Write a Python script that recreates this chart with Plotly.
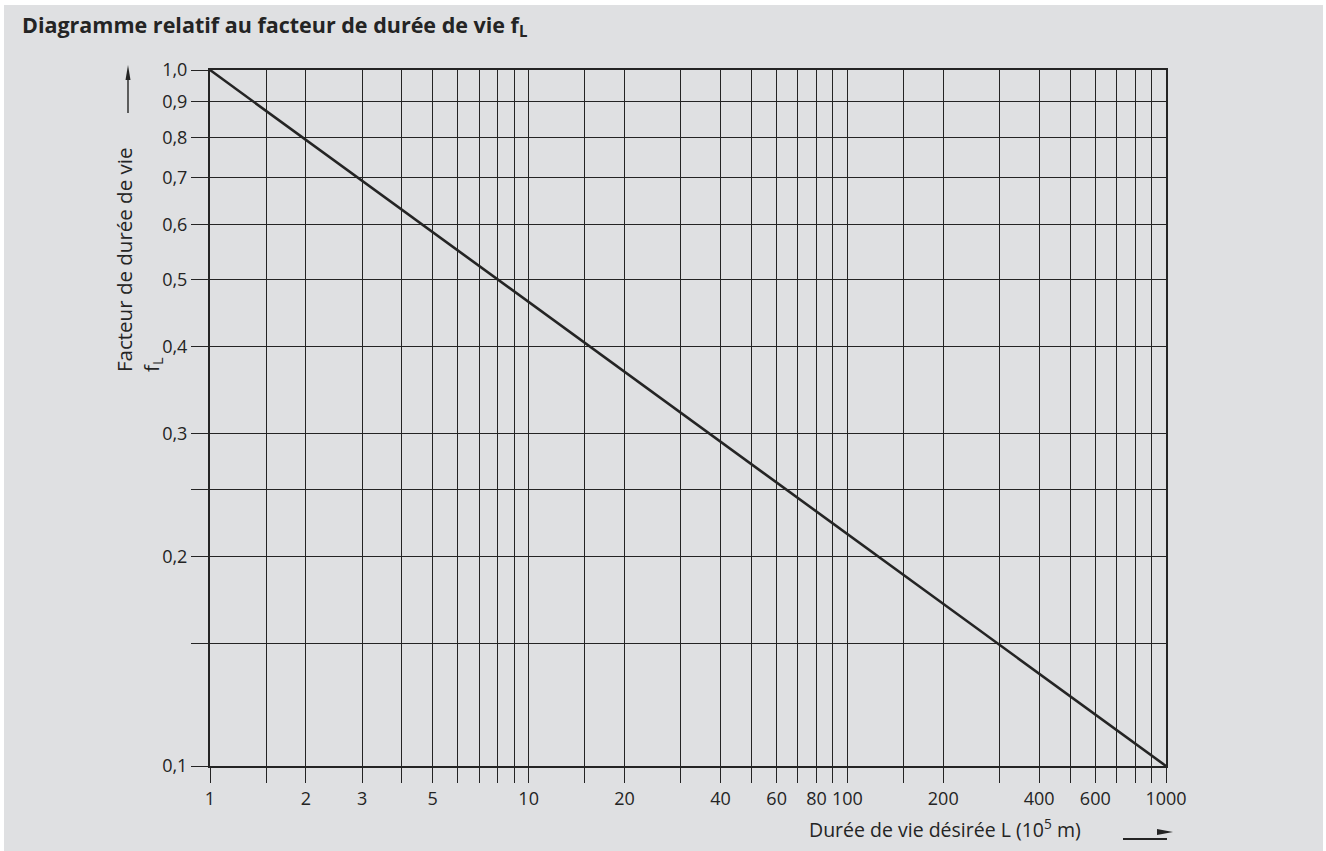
import plotly.graph_objects as go

# Life-factor curve f_L against desired life L (log-log)
life_L = [1, 10, 100, 1000]
factor_fL = [1.0, 0.464, 0.215, 0.1]

# Labelled tick positions
x_major = [1, 2, 3, 5, 10, 20, 40, 60, 80, 100, 200, 400, 600, 1000]
x_major_text = ["1", "2", "3", "5", "10", "20", "40", "60", "80", "100", "200", "400", "600", "1000"]
y_major = [0.1, 0.2, 0.3, 0.4, 0.5, 0.6, 0.7, 0.8, 0.9, 1.0]
y_major_text = ["0,1", "0,2", "0,3", "0,4", "0,5", "0,6", "0,7", "0,8", "0,9", "1,0"]

# Unlabelled grid positions
x_minor = [1.5, 4, 6, 7, 8, 9, 15, 30, 50, 70, 90, 150, 300, 500, 700, 800, 900]
y_minor = [0.15, 0.25]

W, H = 1326, 851
ML, MR, MT, MB = 210, 160, 70, 85
PW, PH = W - ML - MR, H - MT - MB
BG = "#dfe0e2"
INK = "#242424"
FONT = "Open Sans"


def px(x):
    return (x - ML) / PW


def py(y):
    return (H - MB - y) / PH


fig = go.Figure()
fig.add_trace(go.Scatter(x=life_L, y=factor_fL, mode="lines",
                         line=dict(color=INK, width=2.6), cliponaxis=False,
                         hoverinfo="skip", showlegend=False))

shapes = [
    # white frame strips around the grey panel
    dict(type="rect", xref="paper", yref="paper", x0=px(0), x1=px(W), y0=py(0), y1=py(5),
         fillcolor="white", line=dict(width=0), layer="below"),
    dict(type="rect", xref="paper", yref="paper", x0=px(0), x1=px(4), y0=py(0), y1=py(H),
         fillcolor="white", line=dict(width=0), layer="below"),
    dict(type="rect", xref="paper", yref="paper", x0=px(1323), x1=px(W), y0=py(0), y1=py(H),
         fillcolor="white", line=dict(width=0), layer="below"),
    # y-axis direction arrow
    dict(type="line", xref="paper", yref="paper", x0=px(128), x1=px(128), y0=py(113), y1=py(78),
         line=dict(color=INK, width=1.4)),
    dict(type="path", xref="paper", yref="paper",
         path=f"M {px(125.5)},{py(80)} L {px(128)},{py(65)} L {px(130.5)},{py(80)} Z",
         fillcolor=INK, line=dict(width=0)),
    # x-axis direction arrow
    dict(type="line", xref="paper", yref="paper", x0=px(1123), x1=px(1167), y0=py(839), y1=py(839),
         line=dict(color=INK, width=2)),
    dict(type="path", xref="paper", yref="paper",
         path=f"M {px(1157)},{py(829)} L {px(1173)},{py(832)} L {px(1157)},{py(835)} Z",
         fillcolor=INK, line=dict(width=0)),
]

annotations = [
    dict(xref="paper", yref="paper", x=px(138), y=py(260), xanchor="center", yanchor="middle",
         text="Facteur de durée de vie<br>f<sub>L</sub>", textangle=-90, align="left",
         showarrow=False, font=dict(family=FONT, size=20.5, color=INK)),
    dict(xref="paper", yref="paper", x=px(807), y=py(828), xanchor="left", yanchor="middle",
         text="Durée de vie désirée L (10<sup>5</sup> m)", showarrow=False,
         font=dict(family=FONT, size=19.5, color=INK)),
]

fig.update_layout(
    width=W, height=H, autosize=False,
    margin=dict(l=ML, r=MR, t=MT, b=MB, pad=0),
    paper_bgcolor=BG, plot_bgcolor=BG,
    title=dict(text="<b>Diagramme relatif au facteur de durée de vie f<sub>L</sub></b>",
               x=22 / W, xanchor="left", y=1 - 25 / H, yanchor="middle",
               xref="container", yref="container",
               font=dict(family=FONT, size=21.5, color=INK)),
    shapes=shapes, annotations=annotations, showlegend=False,
)

grid_style = dict(showgrid=True, gridcolor=INK, gridwidth=1)

fig.update_xaxes(
    type="log", range=[0, 3], automargin=False,
    tickmode="array", tickvals=x_major, ticktext=x_major_text,
    ticks="outside", ticklen=15, tickwidth=1, tickcolor=INK,
    minor=dict(tickmode="array", tickvals=x_minor, ticks="outside", ticklen=15,
               tickwidth=1, tickcolor=INK, **grid_style),
    zeroline=False, showline=True, linecolor=INK, linewidth=2, mirror=True,
    tickfont=dict(family=FONT, size=18, color=INK), **grid_style,
)
fig.update_yaxes(
    type="log", range=[-1, 0], automargin=False,
    tickmode="array", tickvals=y_major, ticktext=y_major_text,
    ticks="outside", ticklen=17, tickwidth=1, tickcolor=INK,
    minor=dict(tickmode="array", tickvals=y_minor, ticks="outside", ticklen=17,
               tickwidth=1, tickcolor=INK, **grid_style),
    zeroline=False, showline=True, linecolor=INK, linewidth=2, mirror=True,
    tickfont=dict(family=FONT, size=18, color=INK), **grid_style,
)

fig.write_html("out.html")
